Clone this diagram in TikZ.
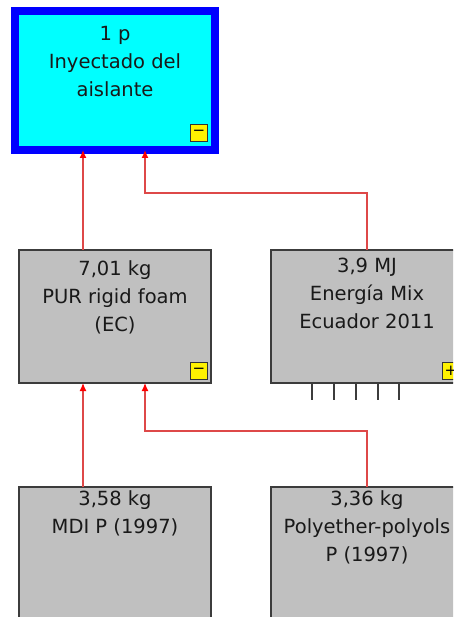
\documentclass[tikz,border=0pt]{standalone}
\usepackage{fontspec}
\setmainfont{DejaVu Sans}
\usetikzlibrary{positioning, arrows.meta, calc}
\definecolor{boxgray}{RGB}{192,192,192}
\definecolor{edgegray}{RGB}{60,60,60}
\definecolor{linkred}{RGB}{222,72,72}
\definecolor{procblue}{RGB}{0,0,255}
\definecolor{proccyan}{RGB}{0,255,255}
\begin{document}
\begin{tikzpicture}[x=1pt, y=-1pt, mainproc/.style={draw=procblue, fill=proccyan, line width=8pt, minimum width=200pt, minimum height=139pt, outer sep=0pt}, process/.style={draw=edgegray, fill=boxgray, line width=1.3pt, minimum width=192pt, minimum height=133pt, outer sep=0pt}, caption/.style={align=center, inner sep=0pt, anchor=north, text=black!90, font=\fontsize{19.5}{28}\selectfont}, toggle/.style={draw=black!80, fill=yellow, line width=1pt, minimum size=17pt, inner sep=0pt, anchor=south east, font=\fontsize{15}{15}\selectfont}, flow/.style={-{Latex[length=8pt, width=7pt, color=red]}, draw=linkred, line width=1.2pt}]
\useasboundingbox (0,0) rectangle (453,617);
\clip (0,0) rectangle (453,617);
\node[mainproc] (P0) at (115,80.5) {};
\node[process] (P1) at (115,316.5) {};
\node[process] (E1) at (367,316.5) {};
\node[process] (P2) at (115,553.5) {};
\node[process] (P3) at (367,553.5) {};
\node[caption] (P0t) at ([yshift=-15pt]P0.north) {1 p\\Inyectado del\\aislante};
\node[caption] (P1t) at ([yshift=-10pt]P1.north) {7,01 kg\\PUR rigid foam\\(EC)};
\node[caption] (E1t) at ([yshift=-8pt]E1.north) {3,9 MJ\\Energía Mix\\Ecuador 2011};
\node[caption] (P2t) at ([yshift=-3.5pt]P2.north) {3,58 kg\\MDI P (1997)};
\node[caption] (P3t) at ([yshift=-3.5pt]P3.north) {3,36 kg\\Polyether-polyols\\P (1997)};
\node[toggle] (P0m) at ([shift={(-7,-8)}]P0.south east) {−};
\node[toggle] (P1m) at ([shift={(-3,-3)}]P1.south east) {−};
\node[toggle] (E1p) at ([shift={(-3,-3)}]E1.south east) {+};
\draw[flow] ($(P1.north west)!1/3!(P1.north east)$) coordinate (p1top) -- (p1top |- P0.south); \draw[flow] (E1.north) -- ++(0,-57) -| ([xshift=30pt]P0.south);
\draw[flow] ($(P2.north west)!1/3!(P2.north east)$) coordinate (p2top) -- (p2top |- P1.south); \draw[flow] (P3.north) -- ++(0,-56) -| ([xshift=30pt]P1.south);
\foreach \dx in {-55,-33,-11,11,32} \draw[edgegray, line width=1.5pt] ([xshift=\dx pt]E1.south) -- ++(0,17);
\end{tikzpicture}
\end{document}
